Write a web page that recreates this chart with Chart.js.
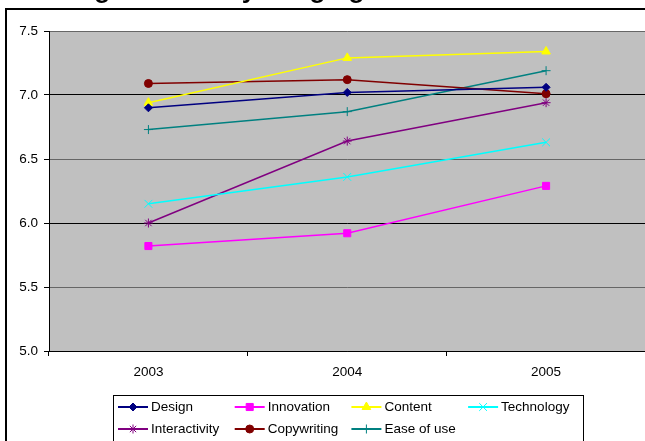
<!DOCTYPE html>
<html>
<head>
<meta charset="utf-8">
<script src="https://cdn.jsdelivr.net/npm/chart.js@4.4.1/dist/chart.umd.min.js"></script>
<style>
  html, body { margin: 0; padding: 0; background: #fff; overflow: hidden; }
  #wrap { position: relative; width: 645px; height: 441px; overflow: hidden; }
  #title {
    position: absolute; left: 23px; top: -24px; white-space: nowrap;
    font: bold 26px Arial, "Liberation Sans", sans-serif; line-height: 26px; color: #000;
  }
  #chart { position: absolute; left: 0; top: 0; }
</style>
</head>
<body>
<div id="wrap">
  <canvas id="chart" width="652" height="441"></canvas>
  <div id="title">Average Scores by Judging Criteria Chart</div>
</div>
<script>
const years = ['2003', '2004', '2005'];

const design = [6.90, 7.02, 7.06];
const innovation = [5.82, 5.92, 6.29];
const content = [6.94, 7.29, 7.34];
const technology = [6.15, 6.36, 6.63];
const interactivity = [6.00, 6.64, 6.94];
const copywriting = [7.09, 7.12, 7.01];
const easeOfUse = [6.73, 6.87, 7.19];

const FONT = 'Arial, "Liberation Sans", sans-serif';

function series(label, data, color, style, radius) {
    return {
        label: label,
        data: data,
        borderColor: color,
        backgroundColor: color,
        borderWidth: 1.5,
        pointStyle: style,
        pointRadius: radius,
        pointHoverRadius: radius,
        pointBackgroundColor: color,
        pointBorderColor: color,
        pointBorderWidth: 1,
        tension: 0,
        fill: false
    };
}

// grey plot area + outer frame
const backdrop = {
    id: 'backdrop',
    beforeDraw(chart) {
        const ctx = chart.ctx, a = chart.chartArea;
        ctx.save();
        ctx.fillStyle = '#c0c0c0';
        ctx.fillRect(a.left, a.top, a.right - a.left, a.bottom - a.top);
        ctx.strokeStyle = '#000';
        ctx.lineWidth = 2;
        ctx.strokeRect(6, 9, 800, 800);
        ctx.restore();
    }
};

// excel style legend, fixed columns
const excelLegend = {
    id: 'excelLegend',
    afterDraw(chart) {
        const ctx = chart.ctx;
        ctx.save();
        ctx.strokeStyle = '#000';
        ctx.lineWidth = 1;
        ctx.strokeRect(113.5, 395.5, 470, 80);
        ctx.font = '13.5px ' + FONT;
        ctx.textBaseline = 'middle';
        chart.data.datasets.forEach(function (ds, i) {
            const x = 118 + (i % 4) * 116.7;
            const y = 407 + Math.floor(i / 4) * 22;
            ctx.strokeStyle = ds.borderColor;
            ctx.lineWidth = 2;
            ctx.beginPath();
            ctx.moveTo(x, y);
            ctx.lineTo(x + 30, y);
            ctx.stroke();
            ctx.fillStyle = ds.borderColor;
            ctx.lineWidth = 1;
            Chart.helpers.drawPoint(ctx, {
                pointStyle: ds.pointStyle,
                radius: ds.pointRadius,
                borderWidth: 1
            }, x + 15, y);
            ctx.fillStyle = '#000';
            ctx.fillText(ds.label, x + 33, y);
        });
        ctx.restore();
    }
};

new Chart(document.getElementById('chart'), {
    type: 'line',
    data: {
        labels: years,
        datasets: [
            series('Design', design, '#000080', 'rectRot', 4),
            series('Innovation', innovation, '#ff00ff', 'rect', 5),
            series('Content', content, '#ffff00', 'triangle', 5),
            series('Technology', technology, '#00ffff', 'crossRot', 5.5),
            series('Interactivity', interactivity, '#800080', 'star', 4.5),
            series('Copywriting', copywriting, '#800000', 'circle', 4),
            series('Ease of use', easeOfUse, '#008080', 'cross', 4.5)
        ]
    },
    options: {
        responsive: false,
        animation: false,
        layout: { padding: { left: 0, right: 0, top: 31, bottom: 60 } },
        plugins: {
            legend: { display: false },
            title: { display: false },
            tooltip: { enabled: false }
        },
        scales: {
            x: {
                offset: true,
                afterFit(scale) { scale.height = 30; },
                border: { color: '#000', width: 1 },
                grid: {
                    offset: true,
                    drawOnChartArea: false,
                    tickLength: 5,
                    tickColor: '#000'
                },
                ticks: {
                    color: '#000',
                    padding: 8,
                    font: { family: FONT, size: 13.5 }
                }
            },
            y: {
                min: 5,
                max: 7.5,
                afterFit(scale) { scale.width = 49; },
                border: { color: '#000', width: 1 },
                grid: {
                    color: function (c) {
                        return c.tick && c.tick.value % 1 === 0 ? '#000' : '#666';
                    },
                    lineWidth: 1,
                    tickLength: 5,
                    tickColor: '#000'
                },
                ticks: {
                    stepSize: 0.5,
                    color: '#000',
                    padding: 6,
                    font: { family: FONT, size: 13.5 },
                    callback: function (v) { return v.toFixed(1); }
                }
            }
        }
    },
    plugins: [backdrop, excelLegend]
});
</script>
</body>
</html>
